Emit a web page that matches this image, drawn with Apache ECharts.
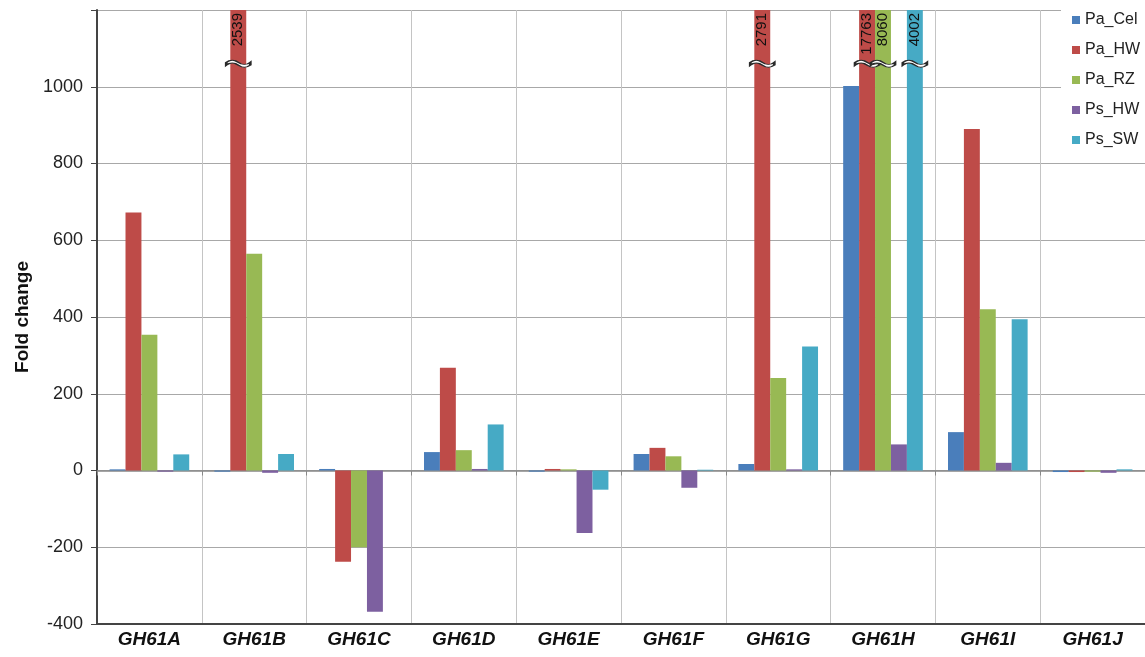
<!DOCTYPE html>
<html><head><meta charset="utf-8">
<script src="https://cdn.jsdelivr.net/npm/echarts@6/dist/echarts.min.js"></script>
<style>html,body{margin:0;padding:0;background:#fff}#c{width:1145px;height:657px}</style>
</head><body><div id="c"></div>
<script>
const categories = ['GH61A','GH61B','GH61C','GH61D','GH61E','GH61F','GH61G','GH61H','GH61I','GH61J'];
const seriesNames = ['Pa_Cel','Pa_HW','Pa_RZ','Ps_HW','Ps_SW'];
const Pa_Cel = [3, -3, 4, 48, -3, 43, 17, 1002, 100, -4];
const Pa_HW  = [672, 2539, -238, 268, 4, 59, 2791, 17763, 890, -4];
const Pa_RZ  = [354, 565, -200, 53, 3, 37, 241, 8060, 420, -3];
const Ps_HW  = [-3, -6, -368, 4, -163, -45, 3, 68, 20, -6];
const Ps_SW  = [42, 43, 0, 120, -50, 2, 323, 4002, 394, 3];
const colors = ['#4A7EBB','#BE4B48','#98B954','#7D60A0','#46AAC5'];
const yTicks = [-400, -200, 0, 200, 400, 600, 800, 1000, 1200];
const axisMax = 1200, breakAt = 1060;
const FONT = 'Liberation Sans, Arial, sans-serif';

const allValues = [Pa_Cel, Pa_HW, Pa_RZ, Ps_HW, Ps_SW];
const wave = 'path://M0,3 C5,0 10,0 15,3 C20,6 25,6 30,3 L30,6 C25,9 20,9 15,6 C10,3 5,3 0,6 Z';

const series = allValues.map((vals, si) => ({
  name: seriesNames[si],
  type: 'bar',
  xAxisIndex: 0,
  barGap: '0%',
  barCategoryGap: '24%',
  itemStyle: { color: colors[si] },
  data: vals.map(v => v > axisMax ? {
    value: v,
    label: { show: true, position: 'insideTop', rotate: 90, distance: 3, formatter: String(v),
             color: '#111', fontSize: 15, fontFamily: FONT, align: 'right', verticalAlign: 'middle' }
  } : v),
  markPoint: {
    silent: true,
    symbol: wave,
    symbolSize: [24, 7],
    itemStyle: { color: '#fff', borderColor: '#2a2a2a', borderWidth: 1.5 },
    label: { show: false },
    data: vals.map((v, ci) => v > axisMax ? { coord: [categories[ci], breakAt] } : null).filter(Boolean)
  }
}));

const chart = echarts.init(document.getElementById('c'));
chart.setOption({
  animation: false,
  backgroundColor: '#fff',
  grid: { left: 97, right: 0, top: 10, bottom: 33, containLabel: false },
  legend: {
    data: seriesNames,
    orient: 'vertical',
    left: 1061, top: 5,
    backgroundColor: '#fff',
    padding: [6, 6, 6, 11],
    icon: 'rect', itemWidth: 8, itemHeight: 8, itemGap: 12,
    textStyle: { fontSize: 16, color: '#222', fontFamily: FONT, padding: [0,0,0,0], lineHeight: 18 }
  },
  xAxis: [{
    type: 'category', data: categories, position: 'bottom',
    axisLine: { onZero: false, lineStyle: { color: '#444', width: 2 } },
    axisTick: { show: false },
    splitLine: { show: true, lineStyle: { color: '#c4c4c4', width: 1 } },
    axisLabel: { margin: 6, fontSize: 19, fontWeight: 'bold', fontStyle: 'italic', color: '#111', fontFamily: FONT }
  }, {
    type: 'category', data: categories, position: 'bottom',
    axisLine: { onZero: true, lineStyle: { color: '#888', width: 1.5 } },
    axisTick: { show: true, length: 5, lineStyle: { color: '#888' } },
    axisLabel: { show: false },
    splitLine: { show: false }
  }],
  yAxis: {
    type: 'value', min: -400, max: axisMax, interval: 200,
    name: 'Fold change', nameLocation: 'middle', nameGap: 65,
    nameTextStyle: { fontSize: 19, fontWeight: 'bold', color: '#111', fontFamily: FONT },
    axisLine: { show: true, lineStyle: { color: '#444', width: 2 } },
    axisTick: { show: true, length: 6, lineStyle: { color: '#444' } },
    axisLabel: { margin: 14, fontSize: 18, color: '#222', fontFamily: FONT,
                 formatter: v => (v === axisMax ? '' : String(v)) },
    splitLine: { show: true, lineStyle: { color: '#a8a8a8', width: 1 } }
  },
  series: series
});
</script></body></html>
